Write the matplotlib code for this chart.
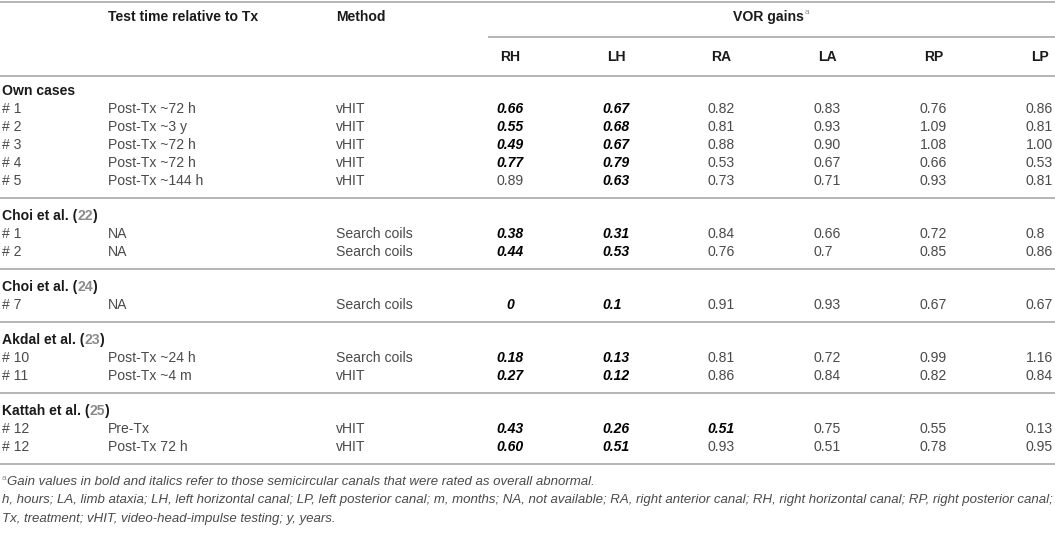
import matplotlib
matplotlib.use("Agg")
import matplotlib.pyplot as plt

# ---- table content ----
col_names = ["RH", "LH", "RA", "LA", "RP", "LP"]

group_titles = ["Own cases", "Choi et al.", "Choi et al.", "Akdal et al.", "Kattah et al."]
group_refs = ["", "22", "24", "23", "25"]
group_sizes = [5, 2, 1, 2, 2]

case_ids = ["# 1", "# 2", "# 3", "# 4", "# 5",
            "# 1", "# 2",
            "# 7",
            "# 10", "# 11",
            "# 12", "# 12"]
test_times = ["Post-Tx ~72 h", "Post-Tx ~3 y", "Post-Tx ~72 h", "Post-Tx ~72 h", "Post-Tx ~144 h",
              "NA", "NA",
              "NA",
              "Post-Tx ~24 h", "Post-Tx ~4 m",
              "Pre-Tx", "Post-Tx 72 h"]
methods = ["vHIT", "vHIT", "vHIT", "vHIT", "vHIT",
           "Search coils", "Search coils",
           "Search coils",
           "Search coils", "vHIT",
           "vHIT", "vHIT"]

rh = ["0.66", "0.55", "0.49", "0.77", "0.89", "0.38", "0.44", "0", "0.18", "0.27", "0.43", "0.60"]
lh = ["0.67", "0.68", "0.67", "0.79", "0.63", "0.31", "0.53", "0.1", "0.13", "0.12", "0.26", "0.51"]
ra = ["0.82", "0.81", "0.88", "0.53", "0.73", "0.84", "0.76", "0.91", "0.81", "0.86", "0.51", "0.93"]
la = ["0.83", "0.93", "0.90", "0.67", "0.71", "0.66", "0.7", "0.93", "0.72", "0.84", "0.75", "0.51"]
rp = ["0.76", "1.09", "1.08", "0.66", "0.93", "0.72", "0.85", "0.67", "0.99", "0.82", "0.55", "0.78"]
lp = ["0.86", "0.81", "1.00", "0.53", "0.81", "0.8", "0.86", "0.67", "1.16", "0.84", "0.13", "0.95"]
gains = [rh, lh, ra, la, rp, lp]

# cells rated abnormal (row, column) -> bold italic
abnormal = [(r, 0) for r in range(12) if r != 4] + [(r, 1) for r in range(12)] + [(10, 2)]

footnotes = [
    "Gain values in bold and italics refer to those semicircular canals that were rated as overall abnormal.",
    "h, hours; LA, limb ataxia; LH, left horizontal canal; LP, left posterior canal; m, months; NA, not available; "
    "RA, right anterior canal; RH, right horizontal canal; RP, right posterior canal;",
    "Tx, treatment; vHIT, video-head-impulse testing; y, years.",
]

# ---- layout ----
W, H = 1055, 533
FONT = "Liberation Sans"
FS = 10.1
FS_NOTE = 9.5
TXT = "#4a4a4a"
DARK = "#1a1a1a"
RULE = "#b0b0b0"
REFC = "#8a8a8a"

x_id, x_time, x_method = 2, 108, 336
col_cx = [510, 616, 721, 827, 934, 1040]
num_half = 14

fig = plt.figure(figsize=(W / 100, H / 100), dpi=100)
ax = fig.add_axes([0, 0, 1, 1])
ax.set_xlim(0, W)
ax.set_ylim(H, 0)
ax.axis("off")
renderer = fig.canvas.get_renderer()


def rule(y, x0=0, x1=W):
    ax.plot([x0, x1], [y, y], color=RULE, lw=1.3, solid_capstyle="butt")


def txt(x, y, s, **kw):
    opts = dict(fontsize=FS, family=FONT, color=TXT, va="center", ha="left")
    opts.update(kw)
    return ax.text(x, y, s, **opts)


def right_edge(t):
    # data x of the right side of a text
    bb = t.get_window_extent(renderer)
    return ax.transData.inverted().transform((bb.x1, bb.y1))[0]


# header
rule(2)
txt(x_time, 17, "Test time relative to Tx", weight="bold", color=DARK)
txt(x_method, 17, "Method", weight="bold", color=DARK)
vor = txt(768, 17, "VOR gains", weight="bold", color=DARK, ha="center")
txt(right_edge(vor) + 1, 13, "a", fontsize=6, color=REFC)
rule(37, 488, W)
for cx, name in zip(col_cx, col_names):
    txt(cx, 57, name, weight="bold", color=DARK, ha="center")
rule(76)

# body
pitch = 18
y = 76 + 15
row = 0
for g, (title, ref, n) in enumerate(zip(group_titles, group_refs, group_sizes)):
    t = txt(x_id, y, title if not ref else title + " (", weight="bold", color=DARK)
    if ref:
        t2 = txt(right_edge(t), y, ref, weight="bold", color=REFC)
        txt(right_edge(t2), y, ")", weight="bold", color=DARK)
    for _ in range(n):
        y += pitch
        txt(x_id, y, case_ids[row])
        txt(x_time, y, test_times[row])
        txt(x_method, y, methods[row])
        for c in range(6):
            val = gains[c][row]
            bold = (row, c) in abnormal
            kw = dict(weight="bold", style="italic", color="#000000") if bold else {}
            if c == 0:
                txt(col_cx[c], y, val, ha="center", **kw)
            else:
                txt(col_cx[c] - num_half, y, val, **kw)
        row += 1
    y += 17
    rule(y)
    y += 18

# footnotes
fy = y
txt(x_id, fy - 4, "a", fontsize=6, color=REFC)
txt(x_id + 5, fy, footnotes[0], style="italic", fontsize=FS_NOTE)
txt(x_id, fy + 18.5, footnotes[1], style="italic", fontsize=FS_NOTE)
txt(x_id, fy + 37, footnotes[2], style="italic", fontsize=FS_NOTE)

fig.savefig("out.png", dpi=100)
